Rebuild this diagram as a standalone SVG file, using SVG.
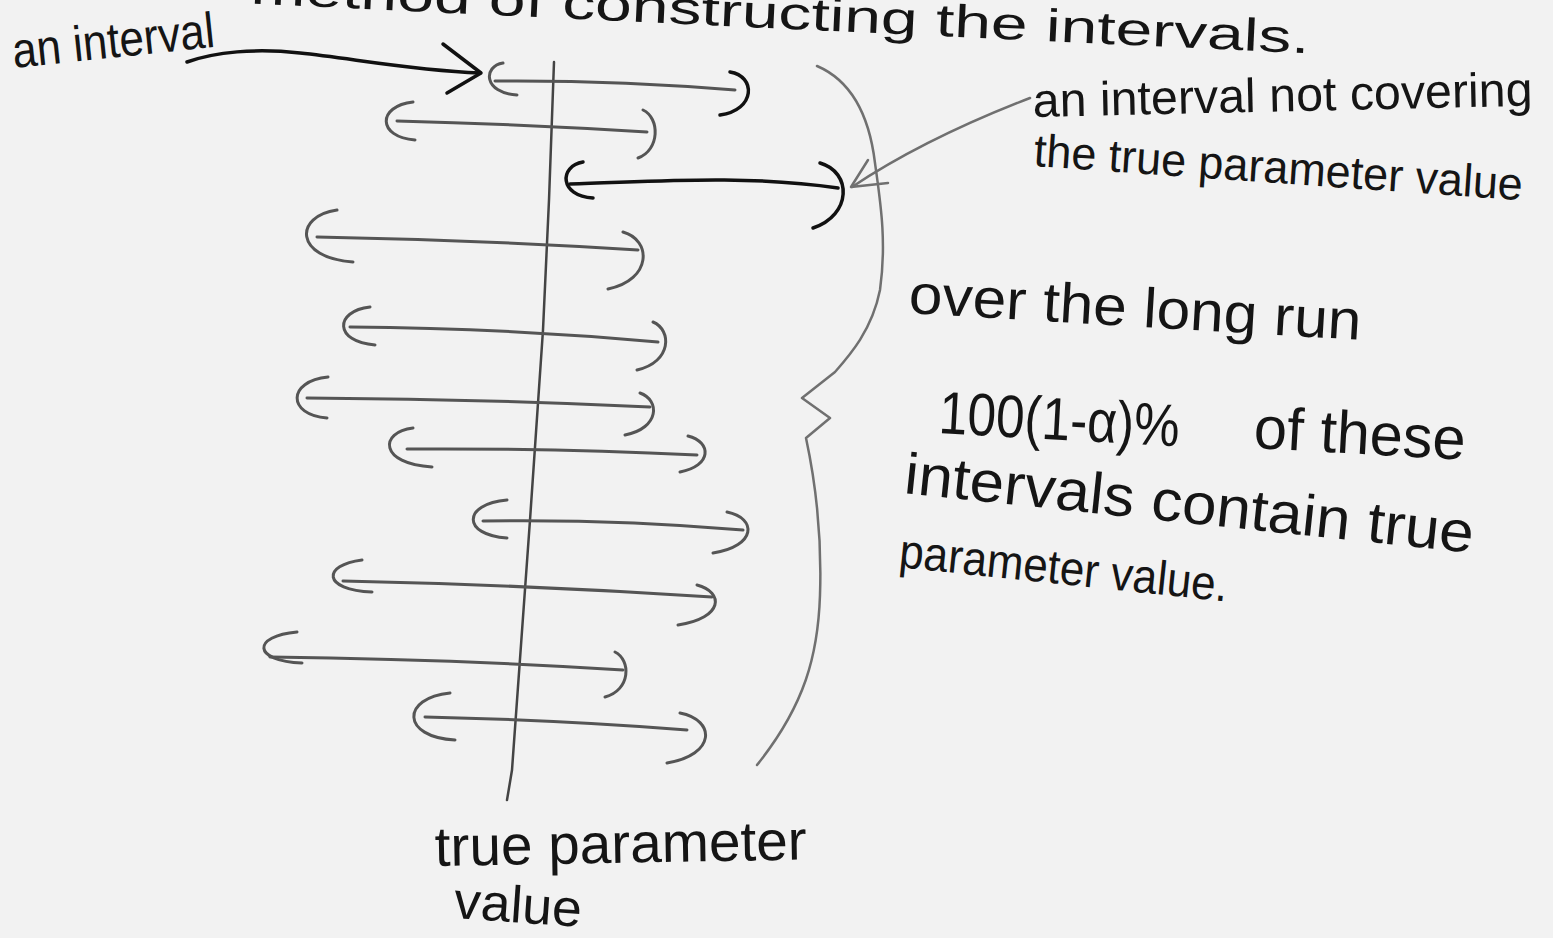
<svg xmlns="http://www.w3.org/2000/svg" width="1553" height="938" viewBox="0 0 1553 938">
<style>
.bg{fill:#f2f2f2}
.txt{font-family:"Liberation Sans","DejaVu Sans",sans-serif;fill:#151515}
.pencil{fill:none;stroke:#555;stroke-width:3;stroke-linecap:round;stroke-linejoin:round}
.ink{fill:none;stroke:#111;stroke-width:3.5;stroke-linecap:round;stroke-linejoin:round}
.grey{fill:none;stroke:#707070;stroke-width:2.5;stroke-linecap:round;stroke-linejoin:round}
.axis{fill:none;stroke:#444;stroke-width:2.5;stroke-linecap:round}
</style>
<rect class="bg" x="0" y="0" width="1553" height="938"/>

<g id="title">
<text class="txt" x="250" y="12" font-size="46" textLength="1060" lengthAdjust="spacingAndGlyphs" transform="rotate(2.7 430 12)">method of constructing the intervals.</text>
</g>

<g id="axis">
<path class="axis" d="M554 62 L549 200 L543 330 L530 520 L512 770 L507 800"/>
</g>

<g id="interval-1">
<path class="pencil" d="M503 63 C483 66 483 93 517 95"/>
<path class="pencil" d="M495 81 Q615 80 735 90"/>
<path class="ink" d="M730 72 C756 76 756 110 720 115"/>
</g>
<g id="interval-2">
<path class="pencil" d="M413 102 C377 106 377 137 415 140"/>
<path class="pencil" d="M397 121 Q520 124 647 132"/>
<path class="pencil" d="M643 110 C660 118 660 150 638 158"/>
</g>
<g id="interval-3">
<path class="ink" d="M583 162 C559 166 559 196 593 198"/>
<path class="ink" d="M570 184 C650 182 740 174 838 188"/>
<path class="ink" d="M820 163 C852 172 852 215 813 228"/>
</g>
<g id="interval-4">
<path class="pencil" d="M337 210 C294 216 294 258 353 262"/>
<path class="pencil" d="M317 237 Q480 240 638 250"/>
<path class="pencil" d="M623 232 C652 240 652 280 608 289"/>
</g>
<g id="interval-5">
<path class="pencil" d="M370 307 C334 311 334 342 375 345"/>
<path class="pencil" d="M350 327 Q505 328 658 342"/>
<path class="pencil" d="M653 322 C672 330 672 362 637 370"/>
</g>
<g id="interval-6">
<path class="pencil" d="M328 377 C287 381 287 415 327 418"/>
<path class="pencil" d="M307 398 Q480 399 650 407"/>
<path class="pencil" d="M640 393 C660 400 660 428 625 435"/>
</g>
<g id="interval-7">
<path class="pencil" d="M413 428 C379 432 379 464 432 467"/>
<path class="pencil" d="M407 449 Q550 448 697 455"/>
<path class="pencil" d="M688 436 C712 442 712 466 680 472"/>
</g>
<g id="interval-8">
<path class="pencil" d="M507 500 C462 504 462 535 507 538"/>
<path class="pencil" d="M483 521 Q615 519 743 530"/>
<path class="pencil" d="M727 512 C757 518 757 546 713 553"/>
</g>
<g id="interval-9">
<path class="pencil" d="M362 560 C322 565 322 590 372 592"/>
<path class="pencil" d="M343 581 Q530 585 712 597"/>
<path class="pencil" d="M697 585 C724 592 724 618 678 625"/>
</g>
<g id="interval-10">
<path class="pencil" d="M297 632 C252 636 252 661 302 663"/>
<path class="pencil" d="M270 657 Q450 659 623 670"/>
<path class="pencil" d="M615 652 C631 660 631 690 605 697"/>
</g>
<g id="interval-11">
<path class="pencil" d="M450 693 C401 698 401 737 455 740"/>
<path class="pencil" d="M425 717 Q560 720 687 730"/>
<path class="pencil" d="M680 713 C716 720 716 755 667 763"/>
</g>

<g id="brace">
<path class="grey" d="M817 66 C845 78 868 105 875 163 C880 200 887 240 880 290 C872 330 850 355 835 372 L802 398 L830 418 L806 438 C815 480 822 535 820 595 C818 655 805 705 757 765"/>
</g>

<g id="connectors">
<path class="ink" d="M187 62 C215 52 255 48 300 53 C350 58 410 70 480 73"/>
<path class="ink" d="M443 44 L481 73 L447 93"/>
<path class="grey" d="M1030 98 C960 125 900 155 852 187"/>
<path class="grey" d="M868 160 L851 187 L888 183"/>
</g>

<g id="label-an-interval">
<text class="txt" x="14" y="68" font-size="50" textLength="203" lengthAdjust="spacingAndGlyphs" transform="rotate(-6 14 68)">an interval</text>
</g>

<g id="label-not-covering">
<text class="txt" x="1033" y="117" font-size="48" textLength="500" lengthAdjust="spacingAndGlyphs" transform="rotate(-1.3 1033 117)">an interval not covering</text>
<text class="txt" x="1033" y="166" font-size="46" textLength="490" lengthAdjust="spacingAndGlyphs" transform="rotate(4 1033 166)">the true parameter value</text>
</g>

<g id="label-long-run">
<text class="txt" x="908" y="313" font-size="56" textLength="453" lengthAdjust="spacingAndGlyphs" transform="rotate(3.4 908 313)">over the long run</text>
<text class="txt" x="938" y="433" font-size="60" textLength="241" lengthAdjust="spacingAndGlyphs" transform="rotate(3.2 938 433)">100(1-α)%</text>
<text class="txt" x="1253" y="448" font-size="60" textLength="212" lengthAdjust="spacingAndGlyphs" transform="rotate(3.2 1253 448)">of these</text>
<text class="txt" x="903" y="493" font-size="58" textLength="572" lengthAdjust="spacingAndGlyphs" transform="rotate(6 903 493)">intervals contain true</text>
<text class="txt" x="898" y="567" font-size="48" textLength="330" lengthAdjust="spacingAndGlyphs" transform="rotate(6 898 567)">parameter value.</text>
</g>

<g id="label-true-parameter">
<text class="txt" x="435" y="866" font-size="56" textLength="372" lengthAdjust="spacingAndGlyphs" transform="rotate(-1 435 866)">true parameter</text>
<text class="txt" x="453" y="918" font-size="52" textLength="128" lengthAdjust="spacingAndGlyphs" transform="rotate(4 453 918)">value</text>
</g>
</svg>
